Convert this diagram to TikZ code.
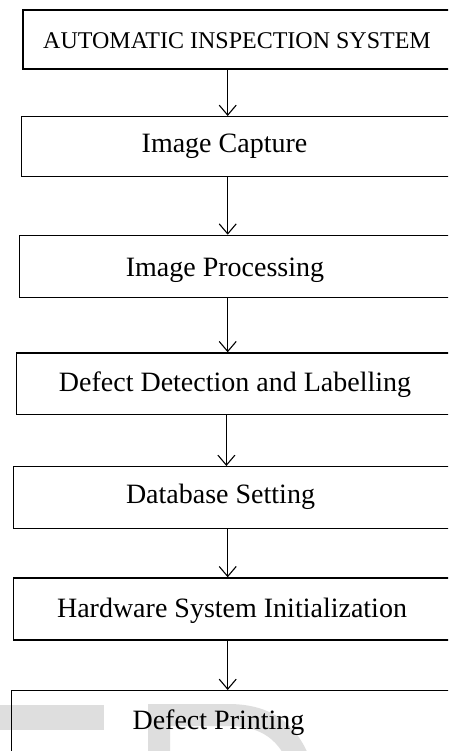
\documentclass[tikz,border=0pt]{standalone}
\usepackage{fontspec}
\setmainfont{Liberation Serif}
\usetikzlibrary{arrows.meta}
\tikzset{
  stepbox/.style={draw=black, line width=1.4pt, inner sep=0pt, anchor=north west},
  lbl/.style={inner sep=0pt, anchor=base, text=black, font=\fontsize{28}{32}\selectfont},
  toplbl/.style={inner sep=0pt, anchor=base, text=black, font=\fontsize{24}{28}\selectfont},
  arr/.style={draw=black, line width=1.1pt, -{Straight Barb[length=10pt,width=17pt,line width=1.1pt]}},
  wm/.style={fill=black!13, draw=none}
}
\begin{document}
\begin{tikzpicture}[x=1pt,y=-1pt]
\useasboundingbox (0,0) rectangle (448,751);
\clip (0,0) rectangle (448,751);
\fill[white] (0,0) rectangle (448,751);
% watermark fragments
\path[wm] (0,705) rectangle (104,730);
\path[wm] (148,770) -- (148,704) -- (228,704) .. controls (272,704) and (300,724) .. (314,770) -- (291,770)
  .. controls (280,740) and (262,726) .. (228,726) -- (170,726) -- (170,770) -- cycle;
% boxes
\node[stepbox, minimum width=448pt, minimum height=59pt] (b1) at (22.3,9.3) {};
\node[stepbox, minimum width=450pt, minimum height=59.7pt] (b2) at (20.7,116) {};
\node[stepbox, minimum width=452pt, minimum height=62pt] (b3) at (19,234.7) {};
\node[stepbox, minimum width=455pt, minimum height=61.7pt] (b4) at (16,352.3) {};
\node[stepbox, minimum width=458pt, minimum height=62pt] (b5) at (12.7,466) {};
\node[stepbox, minimum width=458pt, minimum height=62pt] (b6) at (12.7,577.3) {};
\node[stepbox, minimum width=460pt, minimum height=90pt] (b7) at (11,690) {};
% labels
\node[toplbl] (t1) at (237,49) {AUTOMATIC INSPECTION SYSTEM};
\node[lbl] (t2) at (224.5,153) {Image Capture};
\node[lbl] (t3) at (225,276) {Image Processing};
\node[lbl] (t4) at (235,391) {Defect Detection and Labelling};
\node[lbl] (t5) at (220.5,503) {Database Setting};
\node[lbl] (t6) at (232,617) {Hardware System Initialization};
\node[lbl] (t7) at (218.5,729) {Defect Printing};
% connectors
\coordinate (ax) at (227.7,0);
\coordinate (ay) at (226.4,0);
\draw[arr] (b1.south -| ax) -- (b2.north -| ax);
\draw[arr] (b2.south -| ax) -- (b3.north -| ax);
\draw[arr] (b3.south -| ax) -- (b4.north -| ax);
\draw[arr] (b4.south -| ay) -- (b5.north -| ay);
\draw[arr] (b5.south -| ax) -- (b6.north -| ax);
\draw[arr] (b6.south -| ax) -- (b7.north -| ax);
\end{tikzpicture}
\end{document}
